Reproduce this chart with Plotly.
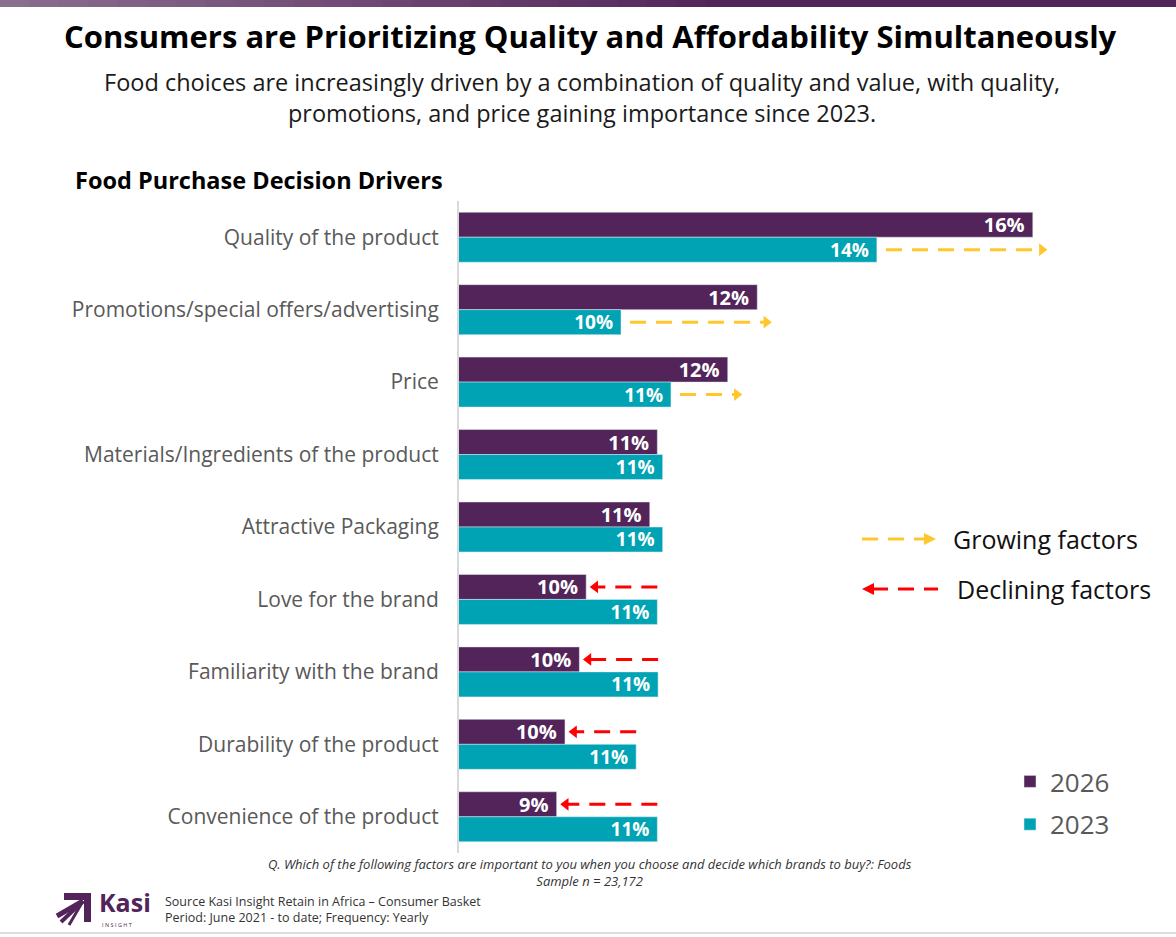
import plotly.graph_objects as go

W, H = 1176, 937
ML, MR, MT, MB = 459, 116, 201, 84
PW, PH = W - ML - MR, H - MT - MB

def X(px):
    return (px - ML) / PW

def Y(py):
    return (H - MB - py) / PH

categories = [
    "Quality of the product",
    "Promotions/special offers/advertising",
    "Price",
    "Materials/Ingredients of the product",
    "Attractive Packaging",
    "Love for the brand",
    "Familiarity with the brand",
    "Durability of the product",
    "Convenience of the product",
]
values_2026 = [16.0, 12.36, 11.97, 11.04, 10.94, 10.10, 10.01, 9.82, 9.71]
values_2023 = [13.94, 10.56, 11.22, 11.11, 11.11, 11.04, 11.05, 10.76, 11.04]
labels_2026 = ["16% ", "12% ", "12% ", "11% ", "11% ", "10% ", "10% ", "10% ", "9% "]
labels_2023 = ["14% ", "10% ", "11% ", "11% ", "11% ", "11% ", "11% ", "11% ", "11% "]
growing = ["Quality of the product", "Promotions/special offers/advertising", "Price"]
declining = ["Love for the brand", "Familiarity with the brand",
             "Durability of the product", "Convenience of the product"]

PURPLE = "#52245A"
TEAL = "#00A3B4"
YELLOW = "#FFC72C"
RED = "#FF0000"
FONT = "Open Sans"

XMIN = 8.42
XMAX = XMIN + PW / 75.7
BARGAP = 0.31
BW = (1 - BARGAP) / 2

pos = list(range(len(categories)))

fig = go.Figure()
fig.add_trace(go.Bar(
    y=pos, x=values_2026, orientation="h", name="2026", marker_color=PURPLE,
    text=labels_2026, textposition="inside", insidetextanchor="end",
    textfont=dict(color="white", size=20, family=FONT, weight="bold"),
    legendgroup="a", hoverinfo="skip",
))
fig.add_trace(go.Bar(
    y=pos, x=values_2023, orientation="h", name="2023", marker_color=TEAL,
    text=labels_2023, textposition="inside", insidetextanchor="end",
    textfont=dict(color="white", size=19, family=FONT, weight="bold"),
    legendgroup="b", hoverinfo="skip",
))

# change arrows
for i, c in enumerate(categories):
    if c in growing:
        x0 = values_2023[i] + 0.12
        x1 = values_2026[i] + 0.12
        yy = i + BW / 2
        sym, col = "triangle-right", YELLOW
    elif c in declining:
        x0 = values_2023[i] + 0.0
        x1 = values_2026[i] + 0.12
        yy = i - BW / 2
        sym, col = "triangle-left", RED
    else:
        continue
    fig.add_trace(go.Scatter(
        x=[x0, x1], y=[yy, yy], mode="lines", showlegend=False, hoverinfo="skip",
        line=dict(color=col, width=3, dash="16px,10px"), cliponaxis=False,
    ))
    fig.add_trace(go.Scatter(
        x=[x1], y=[yy], mode="markers", showlegend=False, hoverinfo="skip",
        marker=dict(symbol=sym, size=11, color=col), cliponaxis=False,
    ))

shapes = []
# top gradient bar
n = 40
c0 = (0x8A, 0x6E, 0x8E)
c1 = (0x52, 0x24, 0x5A)
for k in range(n):
    t = k / (n - 1)
    col = "rgb(%d,%d,%d)" % tuple(int(c0[j] + (c1[j] - c0[j]) * min(1, t * 1.6)) for j in range(3))
    shapes.append(dict(type="rect", xref="paper", yref="paper",
                       x0=X(k * W / n), x1=X((k + 1) * W / n + 1), y0=Y(7), y1=Y(0),
                       fillcolor=col, line=dict(width=0), layer="above"))
# bottom line
shapes.append(dict(type="line", xref="paper", yref="paper", x0=X(0), x1=X(W),
                   y0=Y(933), y1=Y(933), line=dict(color="#DDDDDD", width=2)))

# legend for arrows
shapes.append(dict(type="line", xref="paper", yref="paper", x0=X(862), x1=X(926),
                   y0=Y(539), y1=Y(539), line=dict(color=YELLOW, width=3, dash="16px,10px")))
shapes.append(dict(type="path", xref="paper", yref="paper",
                   path="M %f,%f L %f,%f L %f,%f Z" % (X(924), Y(533), X(936), Y(539), X(924), Y(545)),
                   fillcolor=YELLOW, line=dict(width=0)))
shapes.append(dict(type="line", xref="paper", yref="paper", x0=X(872), x1=X(938),
                   y0=Y(589), y1=Y(589), line=dict(color=RED, width=3, dash="16px,10px")))
shapes.append(dict(type="path", xref="paper", yref="paper",
                   path="M %f,%f L %f,%f L %f,%f Z" % (X(874), Y(583), X(862), Y(589), X(874), Y(595)),
                   fillcolor=RED, line=dict(width=0)))

# logo icon
shapes.append(dict(type="path", xref="paper", yref="paper",
                   path="M %f,%f L %f,%f L %f,%f L %f,%f L %f,%f L %f,%f Z" % (
                       X(64), Y(893), X(91), Y(893), X(91), Y(922), X(84), Y(922), X(84), Y(900), X(64), Y(900)),
                   fillcolor=PURPLE, line=dict(width=0)))
for (a, b, w) in [(57, 916, 5), (61, 922, 4), (69, 925, 3)]:
    shapes.append(dict(type="line", xref="paper", yref="paper",
                       x0=X(a), y0=Y(b), x1=X(83), y1=Y(901),
                       line=dict(color=PURPLE, width=w)))

annotations = [
    dict(text="<b>Consumers are Prioritizing Quality and Affordability Simultaneously</b>",
         x=X(590), y=Y(36), xanchor="center", yanchor="middle",
         font=dict(size=31, color="#000000", family=FONT)),
    dict(text="Food choices are increasingly driven by a combination of quality and value, with quality,<br>promotions, and price gaining importance since 2023.",
         x=X(582), y=Y(97), xanchor="center", yanchor="middle",
         font=dict(size=23.5, color="#1A1A1A", family=FONT), align="center"),
    dict(text="<b>Food Purchase Decision Drivers</b>", x=X(73), y=Y(180), xanchor="left", yanchor="middle",
         font=dict(size=23.5, color="#000000", family=FONT)),
    dict(text="Growing factors", x=X(951), y=Y(539), xanchor="left", yanchor="middle",
         font=dict(size=25, color="#111111", family=FONT)),
    dict(text="Declining factors", x=X(955), y=Y(589), xanchor="left", yanchor="middle",
         font=dict(size=25, color="#111111", family=FONT)),
    dict(text="<i>Q. Which of the following factors are important to you when you choose and decide which brands to buy?: Foods</i><br><i>Sample n = 23,172</i>",
         x=X(590), y=Y(872), xanchor="center", yanchor="middle", align="center",
         font=dict(size=13, color="#333333", family=FONT)),
    dict(text="Source Kasi Insight Retain in Africa – Consumer Basket<br>Period: June 2021 - to date; Frequency: Yearly",
         x=X(163), y=Y(909), xanchor="left", yanchor="middle", align="left",
         font=dict(size=12.5, color="#333333", family=FONT)),
    dict(text="<b>Kasi</b>", x=X(97), y=Y(902), xanchor="left", yanchor="middle",
         font=dict(size=25, color=PURPLE, family=FONT)),
    dict(text="I N S I G H T", x=X(100), y=Y(925), xanchor="left", yanchor="middle",
         font=dict(size=5.5, color=PURPLE, family=FONT)),
]
for a in annotations:
    a.update(xref="paper", yref="paper", showarrow=False)

fig.update_layout(
    width=W, height=H,
    margin=dict(l=ML, r=MR, t=MT, b=MB, pad=0),
    paper_bgcolor="white", plot_bgcolor="white",
    barmode="group", bargap=BARGAP, bargroupgap=0,
    uniformtext=dict(minsize=19, mode="show"),
    xaxis=dict(range=[XMIN, XMAX], visible=False, fixedrange=True),
    yaxis=dict(range=[len(categories) - 0.5, -0.5], tickmode="array", tickvals=pos,
               ticktext=categories, showgrid=False, zeroline=False,
               showline=True, linecolor="#D9D9D9", linewidth=2, ticks="",
               ticklabelstandoff=14,
               tickfont=dict(size=21, color="#595959", family=FONT)),
    legend=dict(x=X(1010), y=Y(758), xanchor="left", yanchor="top",
                traceorder="grouped", tracegroupgap=6, itemwidth=30,
                font=dict(size=26, color="#595959", family=FONT),
                bgcolor="rgba(0,0,0,0)"),
    shapes=shapes, annotations=annotations,
    showlegend=True,
)

fig.write_html("out.html")
